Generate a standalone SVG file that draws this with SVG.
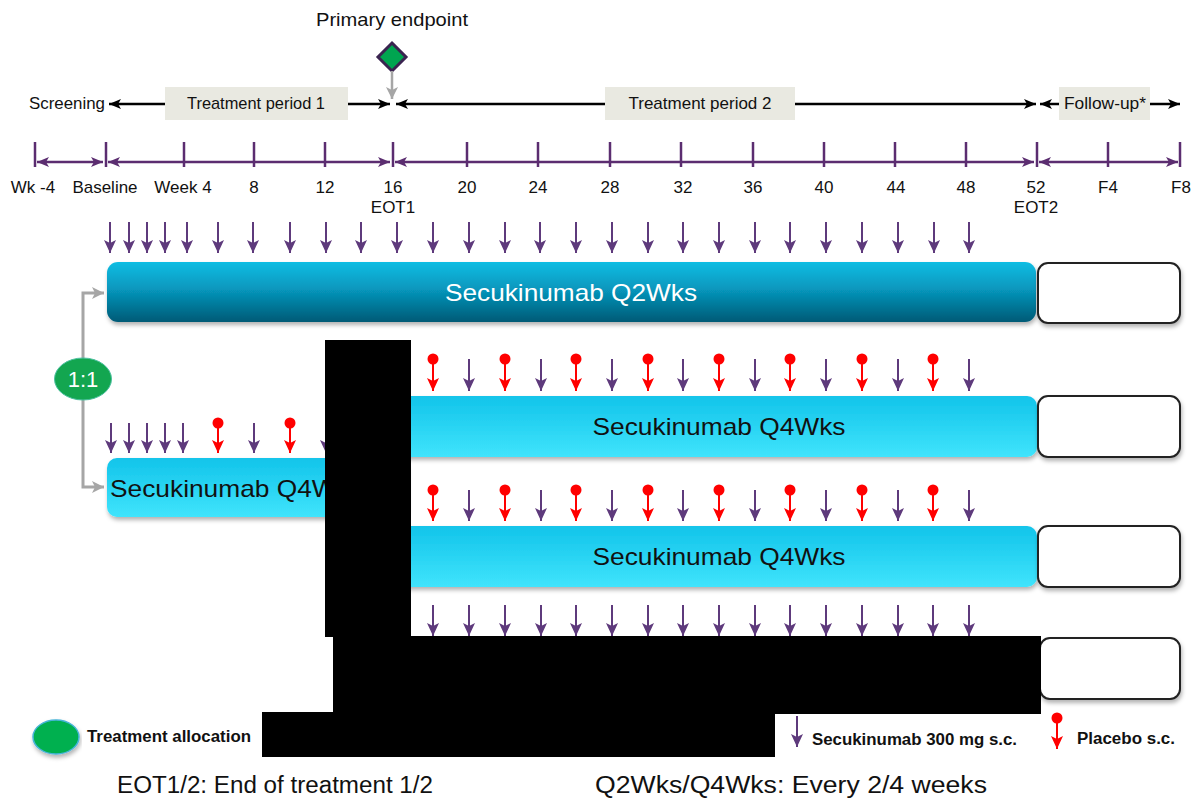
<svg xmlns="http://www.w3.org/2000/svg" width="1200" height="800" viewBox="0 0 1200 800">
<style>
text{font-family:"Liberation Sans",Arial,sans-serif;fill:#111}
.ax{font-size:17px;text-anchor:middle}
.top{stroke:#000;stroke-width:2.5;fill:none;marker-end:url(#mb)}
.axis{stroke:#5b2d70;stroke-width:2.5;fill:none;marker-start:url(#ma);marker-end:url(#ma)}
.tick{stroke:#5b2d70;stroke-width:2.5}
.pa{stroke:#5e3a7c;stroke-width:2;marker-end:url(#mp)}
.ra{stroke:#ff0000;stroke-width:2;marker-end:url(#mr)}
.rc{fill:#ff0000}
.fu{fill:#fff;stroke:#222;stroke-width:2}
.lbl{font-size:24px}
.leg{font-size:16px;font-weight:bold}
.conn{stroke:#a6a6a6;stroke-width:3;fill:none}
</style>
<defs>
<marker id="mb" markerUnits="userSpaceOnUse" markerWidth="14" markerHeight="12" refX="12" refY="5" orient="auto-start-reverse"><path d="M0,0 L12,5 L0,10 L3,5 Z" fill="#000"/></marker>
<marker id="ma" markerUnits="userSpaceOnUse" markerWidth="14" markerHeight="12" refX="12" refY="5" orient="auto-start-reverse"><path d="M0,0 L12,5 L0,10 L3,5 Z" fill="#5b2d70"/></marker>
<marker id="mp" markerUnits="userSpaceOnUse" markerWidth="14" markerHeight="14" refX="13" refY="6" orient="auto"><path d="M0,0 L13,6 L0,12 L3,6 Z" fill="#5e3a7c"/></marker>
<marker id="mr" markerUnits="userSpaceOnUse" markerWidth="14" markerHeight="14" refX="13" refY="6" orient="auto"><path d="M0,0 L13,6 L0,12 L3,6 Z" fill="#ff0000"/></marker>
<marker id="mg" markerUnits="userSpaceOnUse" markerWidth="14" markerHeight="14" refX="12" refY="6" orient="auto"><path d="M0,0 L12,6 L0,12 L3,6 Z" fill="#a6a6a6"/></marker>
<linearGradient id="gDark" x1="0" y1="0" x2="0" y2="1"><stop offset="0" stop-color="#0bbde3"/><stop offset="0.45" stop-color="#0797bd"/><stop offset="1" stop-color="#005a76"/></linearGradient>
<linearGradient id="gLight" x1="0" y1="0" x2="0" y2="1"><stop offset="0" stop-color="#12c4ea"/><stop offset="1" stop-color="#40e4fc"/></linearGradient>
<filter id="sh" x="-5%" y="-20%" width="110%" height="150%"><feDropShadow dx="1" dy="3" stdDeviation="2" flood-color="#000" flood-opacity="0.3"/></filter>
</defs>
<rect width="1200" height="800" fill="#fff"/>

<g id="primary-endpoint">
<text x="392" y="26" font-size="19" text-anchor="middle" textLength="152" lengthAdjust="spacingAndGlyphs">Primary endpoint</text>
<path d="M392,43 L406,57 L392,71 L378,57 Z" fill="#00a550" stroke="#3a2450" stroke-width="3"/>
</g>
<g id="periods">
<text x="105" y="109" font-size="17" text-anchor="end" textLength="76" lengthAdjust="spacingAndGlyphs">Screening</text>
<rect x="165" y="87" width="183" height="33" fill="#e9e9e1"/>
<text x="256" y="109" font-size="17" text-anchor="middle" textLength="138" lengthAdjust="spacingAndGlyphs">Treatment period 1</text>
<rect x="605" y="87" width="190" height="33" fill="#e9e9e1"/>
<text x="700" y="109" font-size="17" text-anchor="middle" textLength="143" lengthAdjust="spacingAndGlyphs">Treatment period 2</text>
<rect x="1059" y="87" width="91" height="33" fill="#e9e9e1"/>
<text x="1105" y="109" font-size="17" text-anchor="middle" textLength="82" lengthAdjust="spacingAndGlyphs">Follow-up*</text>
</g>

<g id="connectors">
<path class="top" d="M165,104 H109"/>
<path class="top" d="M348,104 H390"/>
<path class="top" d="M605,104 H396"/>
<path class="top" d="M795,104 H1036"/>
<path class="top" d="M1059,104 H1040"/>
<path class="top" d="M1150,104 H1180"/>
<line x1="392" y1="71" x2="392" y2="99" stroke="#a6a6a6" stroke-width="2.5" marker-end="url(#mg)"/>
<path class="axis" d="M37,162 H103"/>
<path class="axis" d="M108,162 H390"/>
<path class="axis" d="M395,162 H1034"/>
<path class="axis" d="M1039,162 H1178"/>
<path class="conn" d="M83,358 V293 H104" marker-end="url(#mg)"/>
<path class="conn" d="M83,400 V487 H104" marker-end="url(#mg)"/>
</g>

<g id="axis-ticks">
<line class="tick" x1="35" y1="142" x2="35" y2="167"/>
<line class="tick" x1="106" y1="142" x2="106" y2="167"/>
<line class="tick" x1="184" y1="142" x2="184" y2="167"/>
<line class="tick" x1="254" y1="142" x2="254" y2="167"/>
<line class="tick" x1="325" y1="142" x2="325" y2="167"/>
<line class="tick" x1="393" y1="142" x2="393" y2="167"/>
<line class="tick" x1="467" y1="142" x2="467" y2="167"/>
<line class="tick" x1="538" y1="142" x2="538" y2="167"/>
<line class="tick" x1="610" y1="142" x2="610" y2="167"/>
<line class="tick" x1="681" y1="142" x2="681" y2="167"/>
<line class="tick" x1="753" y1="142" x2="753" y2="167"/>
<line class="tick" x1="824" y1="142" x2="824" y2="167"/>
<line class="tick" x1="895" y1="142" x2="895" y2="167"/>
<line class="tick" x1="966" y1="142" x2="966" y2="167"/>
<line class="tick" x1="1037" y1="142" x2="1037" y2="167"/>
<line class="tick" x1="1108" y1="142" x2="1108" y2="167"/>
<line class="tick" x1="1180" y1="142" x2="1180" y2="167"/>
</g>
<g id="axis-labels">
<text class="ax" x="33" y="193">Wk -4</text>
<text class="ax" x="105" y="193" textLength="65" lengthAdjust="spacingAndGlyphs">Baseline</text>
<text class="ax" x="183" y="193">Week 4</text>
<text class="ax" x="254" y="193">8</text>
<text class="ax" x="325" y="193">12</text>
<text class="ax" x="393" y="193">16</text>
<text class="ax" x="393" y="213">EOT1</text>
<text class="ax" x="467" y="193">20</text>
<text class="ax" x="538" y="193">24</text>
<text class="ax" x="610" y="193">28</text>
<text class="ax" x="683" y="193">32</text>
<text class="ax" x="753" y="193">36</text>
<text class="ax" x="824" y="193">40</text>
<text class="ax" x="896" y="193">44</text>
<text class="ax" x="966" y="193">48</text>
<text class="ax" x="1036" y="193">52</text>
<text class="ax" x="1036" y="213">EOT2</text>
<text class="ax" x="1108" y="193">F4</text>
<text class="ax" x="1181" y="193">F8</text>
</g>

<g id="doses-row1">
<line class="pa" x1="110" y1="222" x2="110" y2="253"/>
<line class="pa" x1="129" y1="222" x2="129" y2="253"/>
<line class="pa" x1="147" y1="222" x2="147" y2="253"/>
<line class="pa" x1="165" y1="222" x2="165" y2="253"/>
<line class="pa" x1="187" y1="222" x2="187" y2="253"/>
<line class="pa" x1="218" y1="222" x2="218" y2="253"/>
<line class="pa" x1="253" y1="222" x2="253" y2="253"/>
<line class="pa" x1="290" y1="222" x2="290" y2="253"/>
<line class="pa" x1="326" y1="222" x2="326" y2="253"/>
<line class="pa" x1="361" y1="222" x2="361" y2="253"/>
<line class="pa" x1="397" y1="222" x2="397" y2="253"/>
<line class="pa" x1="433" y1="222" x2="433" y2="253"/>
<line class="pa" x1="469" y1="222" x2="469" y2="253"/>
<line class="pa" x1="505" y1="222" x2="505" y2="253"/>
<line class="pa" x1="540" y1="222" x2="540" y2="253"/>
<line class="pa" x1="576" y1="222" x2="576" y2="253"/>
<line class="pa" x1="612" y1="222" x2="612" y2="253"/>
<line class="pa" x1="648" y1="222" x2="648" y2="253"/>
<line class="pa" x1="683" y1="222" x2="683" y2="253"/>
<line class="pa" x1="719" y1="222" x2="719" y2="253"/>
<line class="pa" x1="755" y1="222" x2="755" y2="253"/>
<line class="pa" x1="790" y1="222" x2="790" y2="253"/>
<line class="pa" x1="826" y1="222" x2="826" y2="253"/>
<line class="pa" x1="862" y1="222" x2="862" y2="253"/>
<line class="pa" x1="898" y1="222" x2="898" y2="253"/>
<line class="pa" x1="934" y1="222" x2="934" y2="253"/>
<line class="pa" x1="969" y1="222" x2="969" y2="253"/>
</g>

<g id="bar-q2wks">
<rect x="107" y="262" width="929" height="60" rx="11" fill="url(#gDark)" filter="url(#sh)"/>
<text x="571" y="301" class="lbl" text-anchor="middle" style="fill:#fff" textLength="252" lengthAdjust="spacingAndGlyphs">Secukinumab Q2Wks</text>
</g>
<g id="fu1"><rect class="fu" x="1038" y="263" width="142" height="60" rx="10" filter="url(#sh)"/></g>

<g id="randomisation">
<ellipse cx="83" cy="379" rx="28.5" ry="21" fill="#13a650" stroke="#4cc0a0" stroke-width="1"/>
<text x="83" y="387" font-size="22" text-anchor="middle" style="fill:#fff">1:1</text>
</g>

<g id="doses-row2">
<line class="pa" x1="111" y1="423" x2="111" y2="453"/>
<line class="pa" x1="129" y1="423" x2="129" y2="453"/>
<line class="pa" x1="147" y1="423" x2="147" y2="453"/>
<line class="pa" x1="165" y1="423" x2="165" y2="453"/>
<line class="pa" x1="183" y1="423" x2="183" y2="453"/>
<circle class="rc" cx="218" cy="423" r="5.5"/><line class="ra" x1="218" y1="423" x2="218" y2="453"/>
<line class="pa" x1="254" y1="423" x2="254" y2="453"/>
<circle class="rc" cx="290" cy="423" r="5.5"/><line class="ra" x1="290" y1="423" x2="290" y2="453"/>
<line class="pa" x1="326" y1="423" x2="326" y2="453"/>
</g>
<g id="bar-q4wks-tp1">
<rect x="107" y="458" width="300" height="59" rx="10" fill="url(#gLight)" filter="url(#sh)"/>
<text x="110" y="497" class="lbl" textLength="253" lengthAdjust="spacingAndGlyphs">Secukinumab Q4Wks</text>
</g>

<g id="doses-row3">
<circle class="rc" cx="433" cy="359" r="5.5"/><line class="ra" x1="433" y1="359" x2="433" y2="391"/>
<line class="pa" x1="469" y1="359" x2="469" y2="391"/>
<circle class="rc" cx="505" cy="359" r="5.5"/><line class="ra" x1="505" y1="359" x2="505" y2="391"/>
<line class="pa" x1="541" y1="359" x2="541" y2="391"/>
<circle class="rc" cx="576" cy="359" r="5.5"/><line class="ra" x1="576" y1="359" x2="576" y2="391"/>
<line class="pa" x1="612" y1="359" x2="612" y2="391"/>
<circle class="rc" cx="648" cy="359" r="5.5"/><line class="ra" x1="648" y1="359" x2="648" y2="391"/>
<line class="pa" x1="683" y1="359" x2="683" y2="391"/>
<circle class="rc" cx="719" cy="359" r="5.5"/><line class="ra" x1="719" y1="359" x2="719" y2="391"/>
<line class="pa" x1="755" y1="359" x2="755" y2="391"/>
<circle class="rc" cx="790" cy="359" r="5.5"/><line class="ra" x1="790" y1="359" x2="790" y2="391"/>
<line class="pa" x1="826" y1="359" x2="826" y2="391"/>
<circle class="rc" cx="862" cy="359" r="5.5"/><line class="ra" x1="862" y1="359" x2="862" y2="391"/>
<line class="pa" x1="898" y1="359" x2="898" y2="391"/>
<circle class="rc" cx="933" cy="359" r="5.5"/><line class="ra" x1="933" y1="359" x2="933" y2="391"/>
<line class="pa" x1="969" y1="359" x2="969" y2="391"/>
</g>
<g id="bar-q4wks-a">
<rect x="396" y="396" width="641" height="61" rx="10" fill="url(#gLight)" filter="url(#sh)"/>
<text x="719" y="435" class="lbl" text-anchor="middle" textLength="253" lengthAdjust="spacingAndGlyphs">Secukinumab Q4Wks</text>
</g>
<g id="fu2"><rect class="fu" x="1038" y="396" width="142" height="61" rx="10" filter="url(#sh)"/></g>

<g id="doses-row4">
<circle class="rc" cx="433" cy="490" r="5.5"/><line class="ra" x1="433" y1="490" x2="433" y2="521"/>
<line class="pa" x1="469" y1="490" x2="469" y2="521"/>
<circle class="rc" cx="505" cy="490" r="5.5"/><line class="ra" x1="505" y1="490" x2="505" y2="521"/>
<line class="pa" x1="541" y1="490" x2="541" y2="521"/>
<circle class="rc" cx="576" cy="490" r="5.5"/><line class="ra" x1="576" y1="490" x2="576" y2="521"/>
<line class="pa" x1="612" y1="490" x2="612" y2="521"/>
<circle class="rc" cx="648" cy="490" r="5.5"/><line class="ra" x1="648" y1="490" x2="648" y2="521"/>
<line class="pa" x1="683" y1="490" x2="683" y2="521"/>
<circle class="rc" cx="719" cy="490" r="5.5"/><line class="ra" x1="719" y1="490" x2="719" y2="521"/>
<line class="pa" x1="755" y1="490" x2="755" y2="521"/>
<circle class="rc" cx="790" cy="490" r="5.5"/><line class="ra" x1="790" y1="490" x2="790" y2="521"/>
<line class="pa" x1="826" y1="490" x2="826" y2="521"/>
<circle class="rc" cx="862" cy="490" r="5.5"/><line class="ra" x1="862" y1="490" x2="862" y2="521"/>
<line class="pa" x1="898" y1="490" x2="898" y2="521"/>
<circle class="rc" cx="933" cy="490" r="5.5"/><line class="ra" x1="933" y1="490" x2="933" y2="521"/>
<line class="pa" x1="969" y1="490" x2="969" y2="521"/>
</g>
<g id="bar-q4wks-b">
<rect x="396" y="526" width="641" height="61" rx="10" fill="url(#gLight)" filter="url(#sh)"/>
<text x="719" y="565" class="lbl" text-anchor="middle" textLength="253" lengthAdjust="spacingAndGlyphs">Secukinumab Q4Wks</text>
</g>
<g id="fu3"><rect class="fu" x="1038" y="526" width="142" height="61" rx="10" filter="url(#sh)"/></g>

<g id="doses-row5">
<line class="pa" x1="433" y1="605" x2="433" y2="636"/>
<line class="pa" x1="469" y1="605" x2="469" y2="636"/>
<line class="pa" x1="505" y1="605" x2="505" y2="636"/>
<line class="pa" x1="541" y1="605" x2="541" y2="636"/>
<line class="pa" x1="576" y1="605" x2="576" y2="636"/>
<line class="pa" x1="612" y1="605" x2="612" y2="636"/>
<line class="pa" x1="648" y1="605" x2="648" y2="636"/>
<line class="pa" x1="683" y1="605" x2="683" y2="636"/>
<line class="pa" x1="719" y1="605" x2="719" y2="636"/>
<line class="pa" x1="755" y1="605" x2="755" y2="636"/>
<line class="pa" x1="790" y1="605" x2="790" y2="636"/>
<line class="pa" x1="826" y1="605" x2="826" y2="636"/>
<line class="pa" x1="862" y1="605" x2="862" y2="636"/>
<line class="pa" x1="898" y1="605" x2="898" y2="636"/>
<line class="pa" x1="933" y1="605" x2="933" y2="636"/>
<line class="pa" x1="969" y1="605" x2="969" y2="636"/>
</g>
<g id="fu4"><rect class="fu" x="1040" y="638" width="140" height="61" rx="10" filter="url(#sh)"/></g>

<path id="redaction" d="M325,340 H411 V636 H1041 V714 H775 V757 H262 V712 H333 V637 H325 Z" fill="#000"/>

<g id="legend">
<ellipse cx="56" cy="737" rx="23" ry="17" fill="#00b050" stroke="#46b4d8" stroke-width="1.5" filter="url(#sh)"/>
<text x="87" y="742" class="leg" textLength="164" lengthAdjust="spacingAndGlyphs">Treatment allocation</text>
<line class="pa" x1="797" y1="716" x2="797" y2="747"/>
<text x="812" y="745" class="leg" textLength="205" lengthAdjust="spacingAndGlyphs">Secukinumab 300 mg s.c.</text>
<circle class="rc" cx="1057" cy="718" r="5.5"/><line class="ra" x1="1057" y1="718" x2="1057" y2="749"/>
<text x="1077" y="744" class="leg" textLength="98" lengthAdjust="spacingAndGlyphs">Placebo s.c.</text>
</g>
<g id="footnotes">
<text x="117" y="793" font-size="23" textLength="316" lengthAdjust="spacingAndGlyphs">EOT1/2: End of treatment 1/2</text>
<text x="595" y="793" font-size="23" textLength="392" lengthAdjust="spacingAndGlyphs">Q2Wks/Q4Wks: Every 2/4 weeks</text>
</g>
</svg>
